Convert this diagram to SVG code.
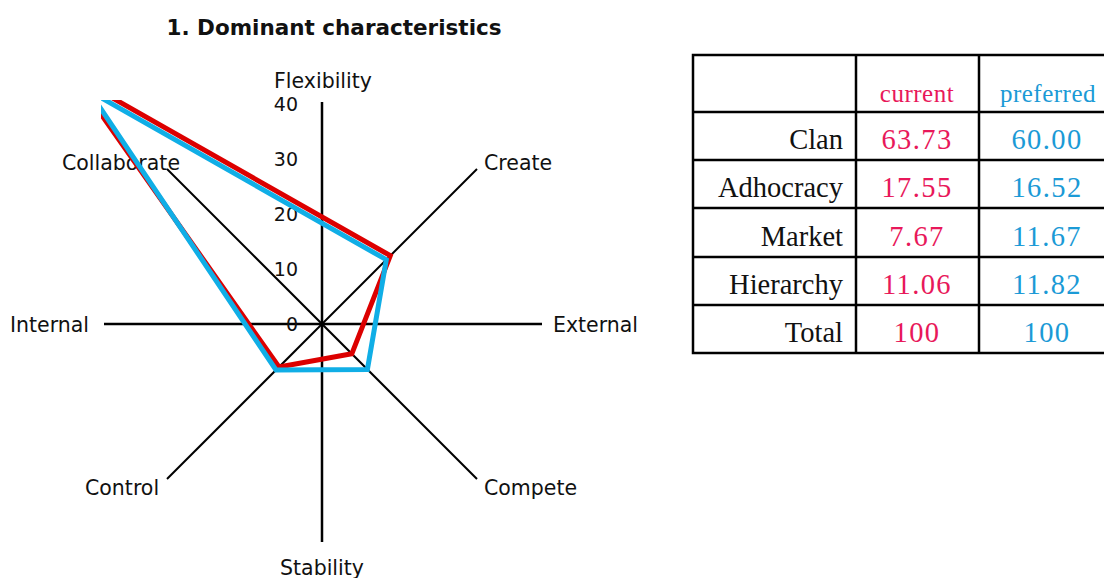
<svg xmlns="http://www.w3.org/2000/svg" width="1104" height="578" viewBox="0 0 1104 578">
  <defs>
    <style>
      .lbl { font-family: "DejaVu Sans", "Noto Sans", sans-serif; font-size: 20.5px; fill: #111; }
      .tick { font-family: "DejaVu Sans", "Noto Sans", sans-serif; font-size: 19px; fill: #111; text-anchor: end; }
      .title { font-family: "DejaVu Sans", "Noto Sans", sans-serif; font-weight: bold; font-size: 21.5px; fill: #111; }
      .axis { stroke: #000; stroke-width: 2.5; fill: none; }
      .diag { stroke: #000; stroke-width: 2; fill: none; }
      .cur { stroke: #dc0000; stroke-width: 5; fill: none; stroke-linejoin: miter; }
      .pref { stroke: #10aee6; stroke-width: 5; fill: none; stroke-linejoin: miter; }
      .grid { stroke: #000; stroke-width: 2.5; fill: none; }
      .tname { font-family: "Liberation Serif", "DejaVu Serif", serif; font-size: 28.5px; fill: #111; text-anchor: end; }
      .tcur { font-family: "Liberation Serif", "DejaVu Serif", serif; font-size: 28.5px; letter-spacing: 1.4px; fill: #e8185a; text-anchor: middle; }
      .tpref { font-family: "Liberation Serif", "DejaVu Serif", serif; font-size: 28.5px; letter-spacing: 1.4px; fill: #1b9ad6; text-anchor: middle; }
      .hcur { font-family: "Liberation Serif", "DejaVu Serif", serif; font-size: 25px; letter-spacing: 0.5px; fill: #e8185a; text-anchor: middle; }
      .hpref { font-family: "Liberation Serif", "DejaVu Serif", serif; font-size: 25px; letter-spacing: 0.5px; fill: #1b9ad6; text-anchor: middle; }
    </style>
    <clipPath id="plotArea">
      <rect x="101" y="100" width="450" height="450"/>
    </clipPath>
  </defs>

  <text class="title" x="334" y="35" text-anchor="middle">1. Dominant characteristics</text>

  <!-- radar axes -->
  <g id="axes">
    <line class="axis" x1="322" y1="102" x2="322" y2="542"/>
    <line class="axis" x1="104" y1="324" x2="542" y2="324"/>
    <line class="diag" x1="167" y1="169" x2="477" y2="479"/>
    <line class="diag" x1="477" y1="169" x2="167" y2="479"/>
  </g>

  <!-- scale labels, 5.5 px per unit -->
  <g id="scale">
    <text class="tick" x="298" y="111">40</text>
    <text class="tick" x="298" y="166">30</text>
    <text class="tick" x="298" y="221">20</text>
    <text class="tick" x="298" y="276">10</text>
    <text class="tick" x="298" y="331">0</text>
  </g>

  <!-- axis labels -->
  <g id="axis-labels">
    <text class="lbl" x="323" y="88" text-anchor="middle">Flexibility</text>
    <text class="lbl" x="322" y="575" text-anchor="middle">Stability</text>
    <text class="lbl" x="10" y="332">Internal</text>
    <text class="lbl" x="553" y="332">External</text>
    <text class="lbl" x="62" y="170">Collaborate</text>
    <text class="lbl" x="484" y="170">Create</text>
    <text class="lbl" x="85" y="495">Control</text>
    <text class="lbl" x="484" y="495">Compete</text>
  </g>

  <!-- profiles: clan / adhocracy / market / hierarchy -->
  <g id="series" clip-path="url(#plotArea)">
    <polygon id="current" class="cur" points="74.2,76.2 390.3,255.7 351.8,353.8 279,367"/>
    <polygon id="preferred" class="pref" points="88.7,90.7 386.3,259.7 367.4,369.4 276,370"/>
  </g>

  <!-- score table -->
  <g id="table">
    <rect class="grid" x="693" y="55" width="420" height="298"/>
    <line class="grid" x1="856" y1="55" x2="856" y2="353"/>
    <line class="grid" x1="979" y1="55" x2="979" y2="353"/>
    <line class="grid" x1="693" y1="112" x2="1106" y2="112"/>
    <line class="grid" x1="693" y1="160" x2="1106" y2="160"/>
    <line class="grid" x1="693" y1="208" x2="1106" y2="208"/>
    <line class="grid" x1="693" y1="257" x2="1106" y2="257"/>
    <line class="grid" x1="693" y1="305" x2="1106" y2="305"/>

    <text class="hcur" x="917" y="102">current</text>
    <text class="hpref" x="1048" y="102">preferred</text>

    <text class="tname" x="843" y="149">Clan</text>
    <text class="tcur" x="917" y="149">63.73</text>
    <text class="tpref" x="1047" y="149">60.00</text>

    <text class="tname" x="843" y="197">Adhocracy</text>
    <text class="tcur" x="917" y="197">17.55</text>
    <text class="tpref" x="1047" y="197">16.52</text>

    <text class="tname" x="843" y="246">Market</text>
    <text class="tcur" x="917" y="246">7.67</text>
    <text class="tpref" x="1047" y="246">11.67</text>

    <text class="tname" x="843" y="294">Hierarchy</text>
    <text class="tcur" x="917" y="294">11.06</text>
    <text class="tpref" x="1047" y="294">11.82</text>

    <text class="tname" x="843" y="342">Total</text>
    <text class="tcur" x="917" y="342">100</text>
    <text class="tpref" x="1047" y="342">100</text>
  </g>
</svg>
